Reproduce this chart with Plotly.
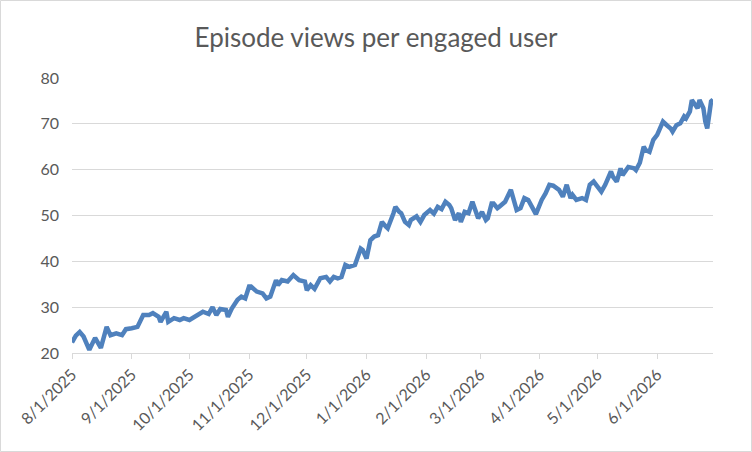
import pandas as pd
import plotly.graph_objects as go

start_date = "2025-08-01"
day_offsets = [
    0, 2, 4, 6, 9, 12, 15, 18, 20, 23, 26, 28, 31, 34, 37, 40, 42, 45, 46, 49,
    50, 53, 56, 58, 61, 64, 68, 71, 73, 75, 77, 80, 81, 83, 86, 88, 90, 92, 93, 96,
    99, 101, 103, 106, 107, 109, 112, 115, 118, 121, 122, 124, 126, 129, 132, 134, 136, 138, 140, 142,
    144, 147, 150, 151, 153, 155, 157, 159, 161, 163, 164, 167, 168, 170, 171, 173, 175, 176, 179, 181,
    183, 186, 188, 190, 192, 194, 196, 197, 199, 201, 202, 204, 206, 208, 209, 211, 213, 215, 216, 218,
    219, 221, 222, 225, 228, 229, 231, 233, 235, 237, 239, 241, 244, 246, 248, 250, 253, 255, 257, 259,
    260, 262, 265, 267, 269, 271, 273, 275, 277, 280, 281, 283, 285, 286, 289, 292, 293, 295, 297, 298,
    300, 302, 304, 306, 307, 309, 311, 312, 314, 316, 318, 319, 321, 322, 324, 325, 326, 328, 329, 330,
    331, 332, 333,
]
views_per_user = [
    22.3, 23.8, 24.6, 23.6, 20.7, 23.3, 21.1, 25.7, 23.9, 24.3, 23.9, 25.2, 25.4, 25.7, 28.3, 28.3, 28.7, 27.9, 26.8, 29.0,
    26.8, 27.6, 27.2, 27.6, 27.2, 27.9, 29.0, 28.5, 30.0, 28.3, 29.6, 29.4, 27.9, 29.7, 31.6, 32.3, 31.9, 34.5, 34.5, 33.4,
    33.0, 31.9, 32.3, 35.9, 34.8, 35.9, 35.6, 37.0, 35.9, 35.6, 33.7, 34.8, 34.0, 36.3, 36.6, 35.6, 36.6, 36.3, 36.6, 39.2,
    38.8, 39.2, 42.8, 42.5, 40.6, 44.6, 45.4, 45.7, 48.6, 47.6, 47.2, 50.5, 51.9, 50.8, 50.5, 48.6, 47.9, 49.0, 49.8, 48.6,
    50.1, 51.2, 50.4, 51.9, 51.4, 53.0, 52.3, 51.6, 49.0, 50.5, 48.6, 50.8, 50.5, 53.0, 51.6, 49.4, 50.8, 49.0, 49.4, 52.6,
    52.6, 51.6, 51.9, 53.0, 55.6, 54.1, 51.2, 51.6, 53.8, 53.4, 51.9, 50.3, 53.4, 54.8, 56.7, 56.5, 55.6, 54.1, 56.7, 53.8,
    54.5, 53.4, 53.8, 53.4, 56.7, 57.4, 56.3, 55.2, 56.7, 59.6, 58.5, 57.4, 60.3, 58.8, 60.6, 60.3, 59.9, 61.5, 65.0, 64.3,
    63.9, 66.5, 67.6, 69.2, 70.5, 69.7, 69.0, 68.3, 69.7, 70.1, 71.6, 71.2, 72.7, 75.2, 74.1, 73.4, 75.2, 73.4, 70.5, 69.0,
    71.9, 74.9, 75.3,
]
chart_title = "Episode views per engaged user"

dates = pd.Timestamp(start_date) + pd.to_timedelta(day_offsets, unit="D")

W, H = 752, 452
ML, MR, MT, MB = 72, 39, 78, 99
PW, PH = W - ML - MR, H - MT - MB

fig = go.Figure()
fig.add_trace(go.Scatter(
    x=dates, y=views_per_user, mode="lines",
    line=dict(color="#4F81BD", width=4.5, shape="linear"),
    hoverinfo="x+y", showlegend=False,
))

grey_text = "#595959"
fig.update_layout(
    width=W, height=H,
    margin=dict(l=ML, r=MR, t=MT, b=MB),
    paper_bgcolor="white", plot_bgcolor="white",
    font=dict(family="Lato, Open Sans, sans-serif", size=16, color=grey_text),
    title=dict(text=chart_title, x=0.5, xanchor="center", y=1 - 38 / H, yanchor="middle",
               font=dict(size=26, color=grey_text)),
    xaxis=dict(
        type="date",
        range=["2025-08-01", "2026-06-30"],
        dtick="M1", tick0="2025-08-01",
        tickformat="%-m/%-d/%Y", tickangle=-45,
        showgrid=False, zeroline=False,
        showline=True, linecolor="#d9d9d9", linewidth=1,
        ticks="outside", ticklen=5, tickcolor="#d9d9d9",
        tickfont=dict(size=16, color=grey_text),
    ),
    yaxis=dict(
        range=[20, 80], dtick=10,
        showgrid=True, gridcolor="#d9d9d9", gridwidth=1,
        zeroline=False, showline=False, ticks="",
        tickfont=dict(size=16, color=grey_text),
        ticklabelstandoff=12,
    ),
    shapes=[dict(
        type="rect", xref="paper", yref="paper",
        x0=(0.5 - ML) / PW, x1=(W - 0.5 - ML) / PW,
        y0=-(MB - 0.5) / PH, y1=1 + (MT - 0.5) / PH,
        line=dict(color="#d9d9d9", width=1), fillcolor="rgba(0,0,0,0)", layer="below",
    )],
)

fig.write_html(
    "out.html",
    config={"displayModeBar": False},
    post_script="document.body.style.margin='0';document.body.style.overflow='hidden';",
)
